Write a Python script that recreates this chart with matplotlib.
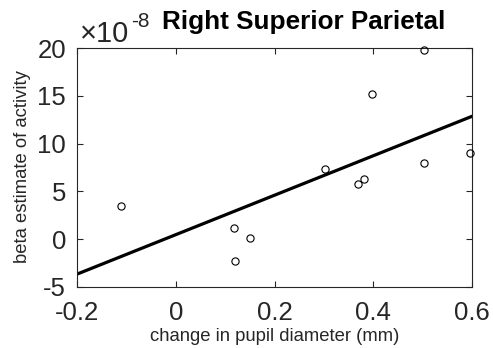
import numpy as np
import matplotlib
matplotlib.use("Agg")
import matplotlib.pyplot as plt

plt.rcParams['font.family'] = ['Liberation Sans', 'DejaVu Sans']

pupil_change = [-0.111, 0.117, 0.121, 0.150, 0.302, 0.370, 0.381, 0.397, 0.503, 0.502, 0.596]
beta = [3.47, 1.20, -2.25, 0.16, 7.34, 5.77, 6.27, 15.16, 19.80, 7.97, 8.99]  # x 1e-8
xticks = [-0.2, 0, 0.2, 0.4, 0.6]
xticklabels = ['-0.2', '0', '0.2', '0.4', '0.6']
yticks = [-5, 0, 5, 10, 15, 20]
yticklabels = ['-5', '0', '5', '10', '15', '20']

W, H = 493, 348
fig = plt.figure(figsize=(W / 100, H / 100), dpi=100)
L, R, T, B = 77, 472, 48, 287
ax = fig.add_axes([L / W, 1 - B / H, (R - L) / W, (B - T) / H])

x = np.array(pupil_change)
y = np.array(beta)
ax.plot(x, y, 'o', mfc='none', mec='black', ms=5.2, mew=0.8, zorder=3, clip_on=False)
slope, intercept = np.polyfit(x, y, 1)
xl = np.array([xticks[0], xticks[-1]])
ax.plot(xl, slope * xl + intercept, color='black', lw=2.3, zorder=2)

ax.set_xlim(xticks[0], xticks[-1])
ax.set_ylim(yticks[0], yticks[-1])
ax.set_xticks(xticks)
ax.set_xticklabels(xticklabels)
ax.set_yticks(yticks)
ax.set_yticklabels(yticklabels)
gray = '#262626'
for s in ax.spines.values():
    s.set_color(gray)
    s.set_linewidth(0.8)
ax.tick_params(direction='in', length=4, width=0.8, color=gray, labelcolor=gray,
               labelsize=18.5, top=True, right=True)
ax.tick_params(axis='y', pad=8)
ax.tick_params(axis='x', pad=10)

fig.text(275 / W, 1 - 341 / H, 'change in pupil diameter (mm)', fontsize=13.3, color=gray,
         ha='center', va='baseline')
fig.text(22.5 / W, 1 - 167 / H, 'beta estimate of activity', fontsize=13.3, color=gray,
         ha='center', va='center', rotation=90)

t10 = fig.text(80 / W, 1 - 42 / H, '\u00d710', fontsize=21, color=gray, ha='left', va='baseline')
fig.canvas.draw()
bb = t10.get_window_extent(fig.canvas.get_renderer())
fig.text(bb.x1 / W + 1.5 / W, 1 - 27 / H, '-8', fontsize=15, color=gray, ha='left', va='baseline')
fig.text(303.5 / W, 1 - 29 / H, 'Right Superior Parietal', fontsize=18.8, fontweight='bold',
         ha='center', va='baseline', color='black')

fig.savefig('out.png', dpi=100)
